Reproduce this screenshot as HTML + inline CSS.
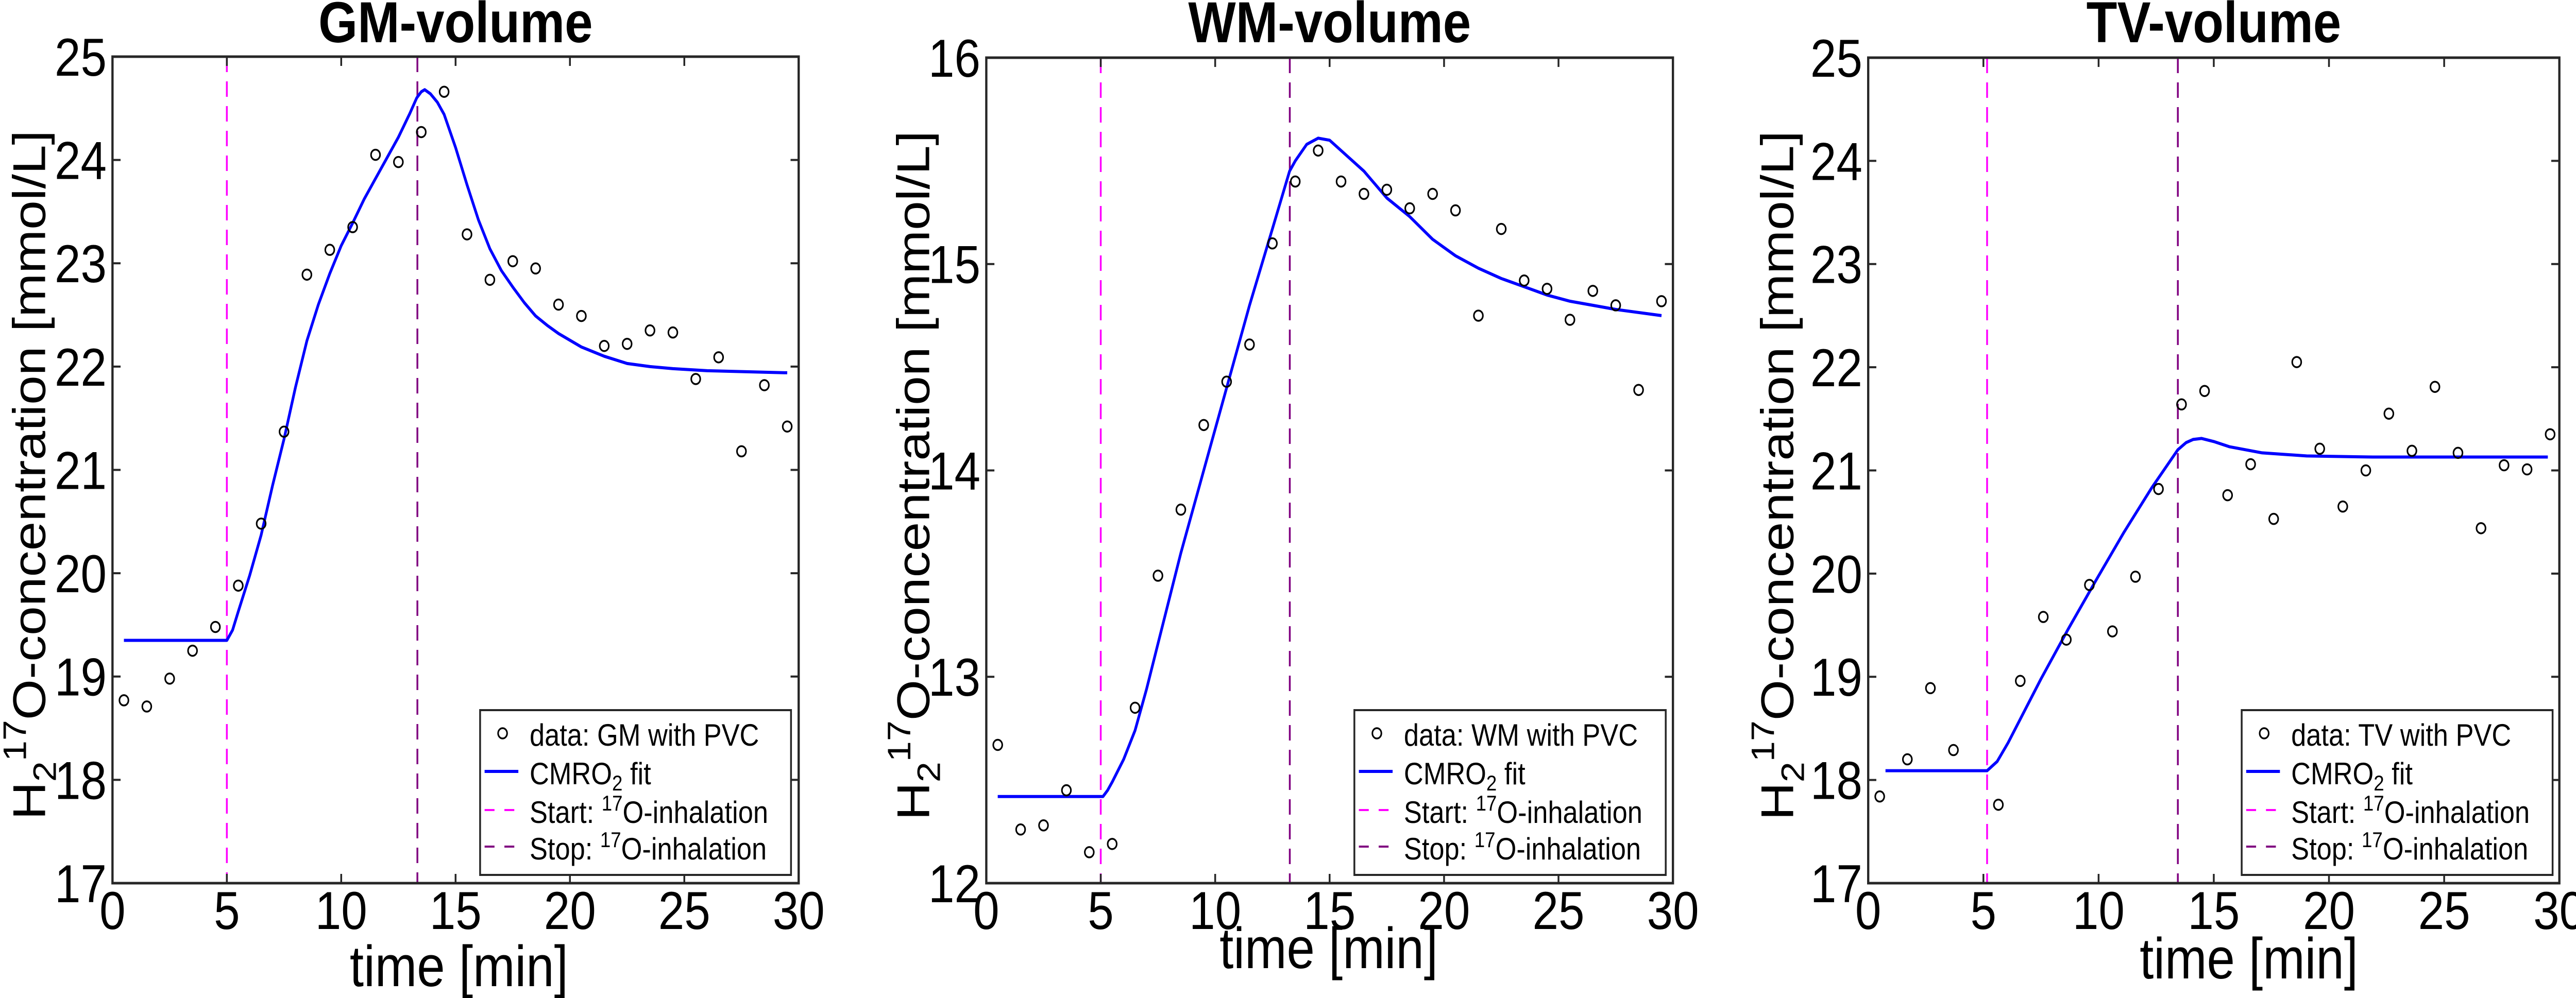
<!DOCTYPE html>
<html><head><meta charset="utf-8"><style>
html,body{margin:0;padding:0;background:#fff;width:100%;height:100%;overflow:hidden;}
svg{display:block;width:100vw;height:100vh;font-family:"Liberation Sans",Arial,sans-serif;}
</style></head><body>
<svg id="fig" viewBox="0 0 5725 1938" preserveAspectRatio="none" xmlns="http://www.w3.org/2000/svg"></svg>
<script>
// ---- GM data ----
const gmTime = [0.5,1.5,2.5,3.5,4.5,5.5,6.5,7.5,8.5,9.5,10.5,11.5,12.5,13.5,14.5,15.5,16.5,17.5,18.5,19.5,20.5,21.5,22.5,23.5,24.5,25.5,26.5,27.5,28.5,29.5];
const gmValue = [18.77,18.71,18.98,19.25,19.48,19.88,20.48,21.37,22.89,23.13,23.35,24.05,23.98,24.27,24.66,23.28,22.84,23.02,22.95,22.60,22.49,22.20,22.22,22.35,22.33,21.88,22.09,21.18,21.82,21.42];
const gmFitTime = [0.5,5.0,5.25,5.5,6.0,6.5,7.0,7.5,8.0,8.5,9.0,9.5,10.0,10.5,11.0,11.5,12.0,12.5,13.0,13.3,13.5,13.65,13.9,14.2,14.5,15.0,15.5,16.0,16.5,17.0,17.5,18.0,18.5,19.0,19.5,20.5,21.5,22.5,23.5,24.5,26,29.5];
const gmFitValue = [19.35,19.35,19.45,19.63,19.98,20.37,20.85,21.3,21.8,22.25,22.6,22.9,23.17,23.39,23.62,23.82,24.02,24.22,24.45,24.6,24.66,24.68,24.64,24.56,24.44,24.12,23.76,23.42,23.14,22.93,22.77,22.62,22.49,22.4,22.32,22.19,22.1,22.03,22.0,21.98,21.96,21.94];
// ---- WM data ----
const wmTime = gmTime;
const wmValue = [12.67,12.26,12.28,12.45,12.15,12.19,12.85,13.49,13.81,14.22,14.43,14.61,15.10,15.40,15.55,15.40,15.34,15.36,15.27,15.34,15.26,14.75,15.17,14.92,14.88,14.73,14.87,14.80,14.39,14.82];
const wmFitTime = [0.5,5.1,5.3,5.5,6.0,6.5,7.0,7.5,8.5,9.5,10.5,11.5,12.5,13.25,13.5,14.0,14.5,15.0,15.5,16.5,17.5,18.5,19.5,20.5,21.5,22.5,23.5,24.5,25.5,26.5,27.5,29.5];
const wmFitValue = [12.42,12.42,12.45,12.49,12.6,12.74,12.94,13.16,13.6,14.0,14.4,14.8,15.17,15.45,15.5,15.58,15.61,15.6,15.55,15.45,15.32,15.23,15.12,15.04,14.98,14.93,14.89,14.85,14.82,14.80,14.78,14.75];
// ---- TV data ----
const tvTime = [0.5,1.7,2.7,3.7,5.65,6.6,7.6,8.6,9.6,10.6,11.6,12.6,13.6,14.6,15.6,16.6,17.6,18.6,19.6,20.6,21.6,22.6,23.6,24.6,25.6,26.6,27.6,28.6,29.6];
const tvValue = [17.84,18.20,18.89,18.29,17.76,18.96,19.58,19.36,19.89,19.44,19.97,20.82,21.64,21.77,20.76,21.06,20.53,22.05,21.21,20.65,21.00,21.55,21.19,21.81,21.17,20.44,21.05,21.01,21.35];
const tvFitTime = [0.75,5.16,5.6,6.07,7.5,8.7,9.9,11.1,12.3,13.44,13.8,14.1,14.47,15.0,15.67,17.1,19.03,21.9,29.5];
const tvFitValue = [18.09,18.09,18.18,18.36,18.98,19.47,19.94,20.4,20.83,21.2,21.27,21.3,21.31,21.28,21.23,21.17,21.14,21.13,21.13];
const xTicks = [0,5,10,15,20,25,30];
const gmTicks = [17,18,19,20,21,22,23,24,25];
const wmTicks = [12,13,14,15,16];
const tvTicks = [17,18,19,20,21,22,23,24,25];
const startTimes = [5.0,5.0,5.16];
const stopTimes = [13.33,13.26,13.44];

const NS="http://www.w3.org/2000/svg";
const svg=document.getElementById('fig');
function mk(tag,attrs,parent){const e=document.createElementNS(NS,tag);for(const k in attrs)e.setAttribute(k,attrs[k]);(parent||svg).appendChild(e);return e;}

function panel(p){
  const g=mk('g',{});
  
  
  const X=t=>p.x0+(t-0)/30*(p.x1-p.x0);
  const Y=v=>p.y1-(v-p.ymin)/(p.ymax-p.ymin)*(p.y1-p.y0);
  const ti=mk('text',{x:(p.x0+p.x1)/2,y:p.titleY,'text-anchor':'middle','font-size':112,'font-weight':'bold'},g);
  ti.textContent=p.title;
  
  
  const sl=mk('line',{x1:X(p.start),x2:X(p.start),y1:p.y0,y2:p.y1,stroke:'#ff00ff','stroke-width':4,'stroke-dasharray':'30 18'},g);
  
  
  const el=mk('line',{x1:X(p.stop),x2:X(p.stop),y1:p.y0,y2:p.y1,stroke:'#800080','stroke-width':4,'stroke-dasharray':'30 18'},g);
  
  
  let d='';
  for(let i=0;i<p.fitT.length;i++){d+=(i?'L':'M')+X(p.fitT[i]).toFixed(1)+' '+Y(p.fitV[i]).toFixed(1);}
  const fit=mk('path',{d:d,fill:'none',stroke:'#0000ff','stroke-width':6,'stroke-linejoin':'round'},g);
  
  
  for(let i=0;i<p.t.length;i++){
    const c=mk('circle',{cx:X(p.t[i]),cy:Y(p.v[i]),r:10,fill:'none',stroke:'#000','stroke-width':3.5},g);
    
    
  }
  const box=mk('rect',{x:p.x0,y:p.y0,width:p.x1-p.x0,height:p.y1-p.y0,fill:'none',stroke:'#262626','stroke-width':5},g);
  
  
  xTicks.forEach(t=>{
    const x=X(t);
    mk('line',{x1:x,x2:x,y1:p.y1,y2:p.y1-18,stroke:'#262626','stroke-width':4},g);
    mk('line',{x1:x,x2:x,y1:p.y0,y2:p.y0+18,stroke:'#262626','stroke-width':4},g);
    const tl=mk('text',{x:x,y:p.y1+89,'text-anchor':'middle','font-size':104},g);
    tl.textContent=t;
    
    
  });
  p.yt.forEach(v=>{
    const y=Y(v);
    mk('line',{x1:p.x0,x2:p.x0+18,y1:y,y2:y,stroke:'#262626','stroke-width':4},g);
    mk('line',{x1:p.x1,x2:p.x1-18,y1:y,y2:y,stroke:'#262626','stroke-width':4},g);
    const tl=mk('text',{x:p.x0-13,y:y+37,'text-anchor':'end','font-size':104},g);
    tl.textContent=v;
    
    
  });
  const xl=mk('text',{x:p.xlX,y:p.xlY,'text-anchor':'middle','font-size':112},g);
  xl.textContent='time [min]';
  
  
  const cy=(p.y0+p.y1)/2+10;
  const yl=mk('text',{x:p.ylX,y:cy,'text-anchor':'middle','font-size':102,transform:`rotate(-90 ${p.ylX} ${cy})`},g);
  yl.innerHTML='H<tspan font-size="72" dy="24">2</tspan><tspan font-size="72" dy="-66">17</tspan><tspan dy="42">O-concentration [mmol/L]</tspan>';
  
  
  const lg=mk('g',{},g);
  
  
  mk('rect',{x:p.lx,y:p.y1-336,width:p.lw,height:320,fill:'#fff',stroke:'#262626','stroke-width':4},lg);
  const r0=p.y1-289;
  const rows=[r0,r0+75,r0+150,r0+221];
  const tx=p.lx+110;
  mk('circle',{cx:p.lx+50,cy:rows[0]-2,r:10,fill:'none',stroke:'#000','stroke-width':3.5},lg);
  mk('line',{x1:p.lx+10,x2:p.lx+85,y1:rows[1]-3,y2:rows[1]-3,stroke:'#0000ff','stroke-width':6},lg);
  mk('line',{x1:p.lx+10,x2:p.lx+85,y1:rows[2]-3,y2:rows[2]-3,stroke:'#ff00ff','stroke-width':4,'stroke-dasharray':'22 22'},lg);
  mk('line',{x1:p.lx+10,x2:p.lx+85,y1:rows[3]-3,y2:rows[3]-3,stroke:'#800080','stroke-width':4,'stroke-dasharray':'22 22'},lg);
  const fs=60;
  const t1=mk('text',{x:tx,y:rows[0]+22,'font-size':fs},lg); t1.textContent='data: '+p.key.toUpperCase()+' with PVC';
  
  
  const t2=mk('text',{x:tx,y:rows[1]+22,'font-size':fs},lg); t2.innerHTML='CMRO<tspan font-size="42" dy="12">2</tspan><tspan dy="-12"> fit</tspan>';
  
  
  const t3=mk('text',{x:tx,y:rows[2]+22,'font-size':fs},lg); t3.innerHTML='Start: <tspan font-size="42" dy="-24">17</tspan><tspan dy="24">O-inhalation</tspan>';
  
  
  const t4=mk('text',{x:tx,y:rows[3]+22,'font-size':fs},lg); t4.innerHTML='Stop: <tspan font-size="42" dy="-24">17</tspan><tspan dy="24">O-inhalation</tspan>';
  
  
}
panel({key:'gm',title:'GM-volume',x0:250,x1:1775,y0:110,y1:1715,ymin:17,ymax:25,t:gmTime,v:gmValue,fitT:gmFitTime,fitV:gmFitValue,yt:gmTicks,start:startTimes[0],stop:stopTimes[0],titleY:82,xlX:1020,xlY:1915,ylX:100,lx:1067,lw:691});
panel({key:'wm',title:'WM-volume',x0:2192,x1:3718,y0:112,y1:1715,ymin:12,ymax:16,t:wmTime,v:wmValue,fitT:wmFitTime,fitV:wmFitValue,yt:wmTicks,start:startTimes[1],stop:stopTimes[1],titleY:82,xlX:2953,xlY:1880,ylX:2065,lx:3010,lw:692});
panel({key:'tv',title:'TV-volume',x0:4152,x1:5688,y0:112,y1:1715,ymin:17,ymax:25,t:tvTime,v:tvValue,fitT:tvFitTime,fitV:tvFitValue,yt:tvTicks,start:startTimes[2],stop:stopTimes[2],titleY:82,xlX:4998,xlY:1900,ylX:3985,lx:4982,lw:691});
</script>
</body></html>
